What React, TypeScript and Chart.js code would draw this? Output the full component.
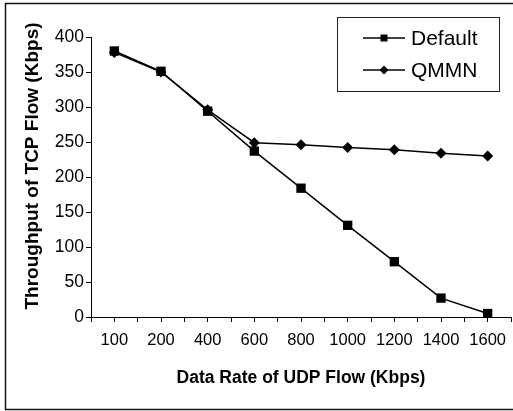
import React, { useEffect, useRef } from 'react';
import { Chart, registerables } from 'chart.js';

Chart.register(...registerables);

const categories = ['100', '200', '400', '600', '800', '1000', '1200', '1400', '1600'];
const defaultValues = [380, 351, 294, 237, 184, 131, 79, 27, 5];
const qmmnValues = [378, 350, 296, 249, 246, 242, 239, 234, 230];
const seriesLabels = ['Default', 'QMMN'];
const yMin = 0;
const yMax = 400;
const yStep = 50;
const xTitle = 'Data Rate of UDP Flow (Kbps)';
const yTitle = 'Throughput of TCP Flow (Kbps)';

const FONT = '"Liberation Sans", Arial, sans-serif';

const framePlugin = {
  id: 'frame',
  afterDraw(chart: any) {
    const ctx = chart.ctx;
    ctx.save();
    ctx.strokeStyle = '#111';
    ctx.lineWidth = 1.5;
    ctx.beginPath();
    ctx.moveTo(520, 3.5);
    ctx.lineTo(5.5, 3.5);
    ctx.lineTo(5.5, 409.5);
    ctx.lineTo(520, 409.5);
    ctx.stroke();
    ctx.restore();
  },
};

const yTitlePlugin = {
  id: 'yTitle',
  afterDraw(chart: any) {
    const ctx = chart.ctx;
    ctx.save();
    ctx.translate(33, 166);
    ctx.rotate(-Math.PI / 2);
    ctx.font = `bold 19px ${FONT}`;
    ctx.fillStyle = '#000';
    ctx.textAlign = 'center';
    ctx.textBaseline = 'middle';
    ctx.fillText(yTitle, 0, 0);
    ctx.restore();
  },
};

const legendPlugin = {
  id: 'boxLegend',
  afterDraw(chart: any) {
    const ctx = chart.ctx;
    ctx.save();
    ctx.strokeStyle = '#222';
    ctx.lineWidth = 1;
    ctx.fillStyle = '#fff';
    ctx.fillRect(337.5, 17.5, 162, 74);
    ctx.strokeRect(337.5, 17.5, 162, 74);
    const rows = [38, 70];
    chart.data.datasets.forEach((ds: any, i: number) => {
      const y = rows[i];
      ctx.strokeStyle = '#000';
      ctx.lineWidth = 1.5;
      ctx.beginPath();
      ctx.moveTo(363, y);
      ctx.lineTo(405, y);
      ctx.stroke();
      ctx.fillStyle = '#000';
      const cx = 384;
      if (ds.pointStyle === 'rect') {
        ctx.fillRect(cx - 3.5, y - 3.5, 7, 7);
      } else {
        ctx.beginPath();
        ctx.moveTo(cx, y - 4.5);
        ctx.lineTo(cx + 4.5, y);
        ctx.lineTo(cx, y + 4.5);
        ctx.lineTo(cx - 4.5, y);
        ctx.closePath();
        ctx.fill();
      }
      ctx.font = `21px ${FONT}`;
      ctx.textBaseline = 'middle';
      ctx.textAlign = 'left';
      ctx.fillText(ds.label, 411, y + 1);
    });
    ctx.restore();
  },
};

export default function App() {
  const ref = useRef<HTMLCanvasElement | null>(null);

  useEffect(() => {
    const canvas = ref.current;
    if (!canvas) return;
    Chart.defaults.font.family = FONT;
    Chart.defaults.color = '#000';
    const chart = new Chart(canvas, {
      type: 'line',
      data: {
        datasets: [
          {
            label: seriesLabels[0],
            data: defaultValues.map((v, i) => ({ x: i, y: v })),
            borderColor: '#000',
            backgroundColor: '#000',
            borderWidth: 1.5,
            pointStyle: 'rect',
            pointRadius: 6.6,
            pointBackgroundColor: '#000',
            pointBorderColor: '#000',
            pointBorderWidth: 0,
            tension: 0,
          },
          {
            label: seriesLabels[1],
            data: qmmnValues.map((v, i) => ({ x: i, y: v })),
            borderColor: '#000',
            backgroundColor: '#000',
            borderWidth: 1.5,
            pointStyle: 'rectRot',
            pointRadius: 5.5,
            pointBackgroundColor: '#000',
            pointBorderColor: '#000',
            pointBorderWidth: 0,
            tension: 0,
          },
        ],
      },
      options: {
        animation: false,
        responsive: false,
        layout: { padding: { left: 0, top: 37, right: 4, bottom: 0 } },
        plugins: {
          legend: { display: false },
          tooltip: { enabled: false },
        },
        scales: {
          x: {
            type: 'linear',
            min: -0.5,
            max: categories.length - 0.5,
            afterFit: (scale: any) => {
              scale.height = 94;
            },
            ticks: {
              stepSize: 0.5,
              autoSkip: false,
              maxRotation: 0,
              minRotation: 0,
              padding: 9,
              font: { size: 16.5 },
              color: '#000',
              callback: (value: any) => {
                const v = Number(value);
                return Number.isInteger(v) ? categories[v] ?? '' : '';
              },
            },
            grid: {
              drawOnChartArea: false,
              drawTicks: true,
              tickLength: 5,
              color: '#000',
            },
            border: { display: true, color: '#000', width: 1 },
            title: {
              display: true,
              text: xTitle,
              font: { size: 17.5, weight: 'bold' },
              color: '#000',
              padding: { top: 0, bottom: 22 },
            },
          },
          y: {
            type: 'linear',
            min: yMin,
            max: yMax,
            afterFit: (scale: any) => {
              scale.width = 91;
            },
            ticks: {
              stepSize: yStep,
              padding: 2,
              font: { size: 17.5 },
              color: '#000',
            },
            grid: {
              drawOnChartArea: false,
              drawTicks: true,
              tickLength: 5,
              color: '#000',
            },
            border: { display: true, color: '#000', width: 1 },
            title: { display: false },
          },
        },
      },
      plugins: [framePlugin, yTitlePlugin, legendPlugin],
    } as any);
    return () => chart.destroy();
  }, []);

  return (
    <div
      style={{
        position: 'fixed',
        left: 0,
        top: 0,
        width: 513,
        height: 411,
        overflow: 'hidden',
        background: '#fff',
      }}
    >
      <canvas ref={ref} width={520} height={411} style={{ width: 520, height: 411, display: 'block' }} />
    </div>
  );
}
